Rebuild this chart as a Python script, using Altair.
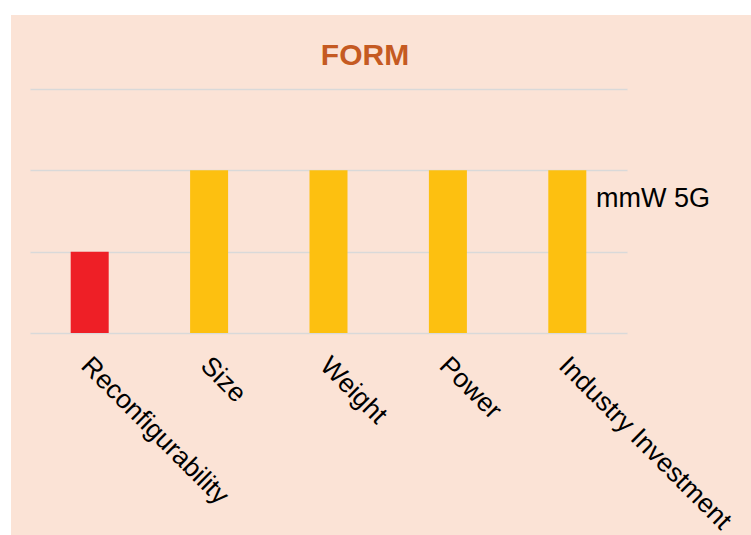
import altair as alt
import pandas as pd

# ---- data ----
categories = ["Reconfigurability", "Size", "Weight", "Power", "Industry Investment"]
values = [1, 2, 2, 2, 2]
series_name = ["mmW 5G"]
title_text = ["FORM"]
y_ticks = [0, 1, 2, 3]

# ---- styles ----
bar_colors = ["#EE1F26", "#FDC010", "#FDC010", "#FDC010", "#FDC010"]
PEACH = "#FBE3D6"
FONT = "Liberation Sans"
W, H = 597, 244

df = pd.DataFrame({"category": categories, "value": values})

bars = alt.Chart(df).mark_bar(size=38).encode(
    x=alt.X(
        "category:N",
        sort=categories,
        title=None,
        scale=alt.Scale(paddingInner=0.1, paddingOuter=0.05),
        axis=alt.Axis(
            labelAngle=45, labelAlign="left", labelBaseline="top",
            labelFont=FONT, labelFontSize=26.5, labelColor="black",
            labelPadding=19, labelOffset=5, labelLimit=0,
            ticks=False, domain=False, grid=False,
        ),
    ),
    y=alt.Y(
        "value:Q",
        title=None,
        scale=alt.Scale(domain=[0, 3], nice=False),
        axis=alt.Axis(
            values=y_ticks, labels=False, ticks=False, domain=False,
            grid=True, gridColor="#D9D9D9", gridWidth=1.5,
        ),
    ),
    color=alt.Color(
        "category:N",
        scale=alt.Scale(domain=categories, range=bar_colors),
        legend=None,
    ),
)

legend_text = alt.Chart(pd.DataFrame({"t": series_name})).mark_text(
    align="left", baseline="alphabetic", fontSize=27, font=FONT, color="black"
).encode(x=alt.value(566), y=alt.value(118), text="t:N")

title_mark = alt.Chart(pd.DataFrame({"t": title_text})).mark_text(
    align="center", baseline="alphabetic", fontSize=30, fontWeight="bold",
    font=FONT, color="#C55A22", clip=False,
).encode(x=alt.value(335), y=alt.value(-24), text="t:N")

# white frame strips (slide crop edge)
strip_left = alt.Chart(pd.DataFrame({"a": [0]})).mark_rect(color="white", clip=False).encode(
    x=alt.value(-30), x2=alt.value(-19), y=alt.value(-89), y2=alt.value(446)
)
strip_top = alt.Chart(pd.DataFrame({"a": [0]})).mark_rect(color="white", clip=False).encode(
    x=alt.value(-30), x2=alt.value(721), y=alt.value(-89), y2=alt.value(-74)
)

chart = alt.layer(strip_left, strip_top, bars, legend_text, title_mark).properties(
    width=W,
    height=H,
    background=PEACH,
    padding={"left": 30, "top": 89, "right": 124, "bottom": 202},
    autosize=alt.AutoSizeParams(type="none"),
).configure_view(stroke=None)

chart.save("out.html", embed_options={"renderer": "svg", "actions": False})
